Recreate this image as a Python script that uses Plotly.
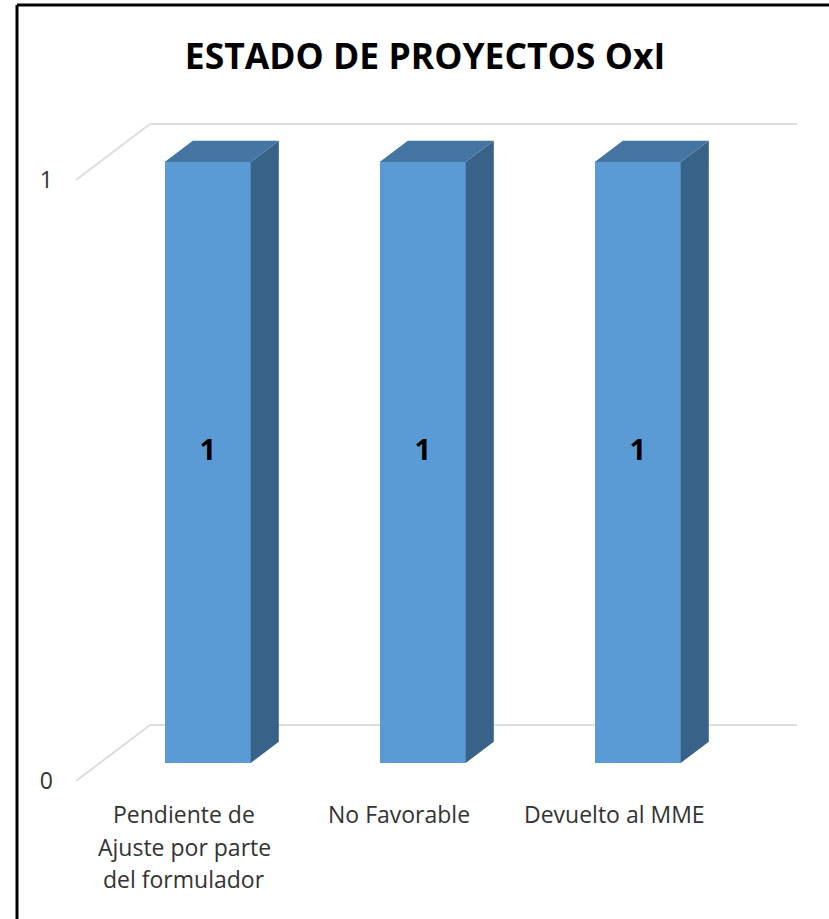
import plotly.graph_objects as go

# Data
categories = [["Pendiente de", "Ajuste por parte", "del formulador"], ["No Favorable"], ["Devuelto al MME"]]
values = [1, 1, 1]
y_ticks = [0, 1]
title = "ESTADO DE PROYECTOS OxI"

# Geometry of the pseudo-3D projection (axis units)
W, H = 829, 919
L, R, T, B = 76, 32, 100, 119
UX = 215.0   # px per category
UY = 601.0   # px per value unit
X0 = 184.0   # px of category 0 at depth 0
Y0 = 781.0   # px of value 0 at depth 0
DX = 74 / UX  # full depth shift in x
DY = 56 / UY  # full depth shift in y
D_FRONT, D_BACK = 0.32, 0.70
BAR_W = 86 / UX
FONT = "Open Sans"


def proj(cat, val, depth):
    return cat + DX * depth, val + DY * depth


def paper_x(px):
    return (px - L) / (W - L - R)


def paper_y(px):
    return ((H - B) - px) / (H - T - B)


fig = go.Figure()
xs = list(range(len(categories)))

# Front faces
fig.add_trace(go.Bar(
    x=[proj(i, 0, D_FRONT)[0] for i in xs],
    y=values,
    base=[proj(0, 0, D_FRONT)[1]] * len(xs),
    width=BAR_W,
    marker=dict(color="#5B9BD5", line=dict(width=0)),
    hoverinfo="skip",
    showlegend=False,
))

# Side and top faces
for i, v in zip(xs, values):
    l, r = i - BAR_W / 2, i + BAR_W / 2
    side = [proj(r, 0, D_FRONT), proj(r, 0, D_BACK), proj(r, v, D_BACK), proj(r, v, D_FRONT)]
    top = [proj(l, v, D_FRONT), proj(l, v, D_BACK), proj(r, v, D_BACK), proj(r, v, D_FRONT)]
    for pts, col in ((side, "#396288"), (top, "#4575A3")):
        fig.add_trace(go.Scatter(
            x=[p[0] for p in pts] + [pts[0][0]],
            y=[p[1] for p in pts] + [pts[0][1]],
            mode="lines", fill="toself", fillcolor=col,
            line=dict(width=0, color=col), hoverinfo="skip", showlegend=False,
        ))

# Data labels
fig.add_trace(go.Scatter(
    x=[proj(i, 0, D_FRONT)[0] for i in xs],
    y=[v / 2 + DY * 0.50 for v in values],
    text=[str(v) for v in values],
    mode="text", textposition="middle center",
    textfont=dict(family=FONT, size=29, color="#000000", weight="bold"),
    hoverinfo="skip", showlegend=False,
))

# Wall and floor gridlines
x_left = -(X0 - L) / UX
x_right = (W - R - X0) / UX
shapes = []
for t in y_ticks:
    back_x = proj(x_left, t, 1)
    shapes.append(dict(type="line", layer="below", xref="x", yref="y",
                       x0=x_left, y0=t, x1=back_x[0], y1=back_x[1],
                       line=dict(color="#DDDDDD", width=2)))
    shapes.append(dict(type="line", layer="below", xref="x", yref="y",
                       x0=back_x[0], y0=back_x[1], x1=x_right, y1=back_x[1],
                       line=dict(color="#DDDDDD", width=2)))

# Black frame: left and top edges only
shapes.append(dict(type="line", xref="paper", yref="paper",
                   x0=paper_x(17), x1=paper_x(17), y0=paper_y(H), y1=paper_y(5),
                   line=dict(color="#000000", width=3)))
shapes.append(dict(type="line", xref="paper", yref="paper",
                   x0=paper_x(17), x1=paper_x(W), y0=paper_y(5), y1=paper_y(5),
                   line=dict(color="#000000", width=3)))

# Category labels, one line each
annotations = []
for i, lines in zip(xs, categories):
    for j, line in enumerate(lines):
        annotations.append(dict(
            x=i, xref="x", y=0, yref="paper", yanchor="middle", xanchor="center",
            yshift=(H - B) - 814 - 32.5 * j, showarrow=False, text=line,
            font=dict(family=FONT, size=23, color="#333333"),
        ))

fig.update_layout(
    width=W, height=H, autosize=False,
    margin=dict(l=L, r=R, t=T, b=B, pad=0),
    paper_bgcolor="#FFFFFF", plot_bgcolor="rgba(0,0,0,0)",
    title=dict(text=title, x=425 / W, xanchor="center", xref="container", y=1 - 57 / H, yanchor="middle",
               yref="container", font=dict(family=FONT, size=35.5, color="#000000", weight="bold")),
    xaxis=dict(range=[x_left, x_right], showgrid=False, zeroline=False, showline=False,
               showticklabels=False, ticks=""),
    yaxis=dict(range=[(Y0 - (H - B)) / UY, (Y0 - T) / UY], showgrid=False, zeroline=False,
               showline=False, tickvals=y_ticks, ticktext=[str(t) for t in y_ticks], ticks="",
               ticklabelstandoff=22, tickfont=dict(family=FONT, size=23, color="#333333")),
    shapes=shapes, annotations=annotations, showlegend=False, bargap=0,
)

fig.write_html("out.html", config={"displayModeBar": False},
               post_script="document.body.style.margin='0';document.documentElement.style.overflow='hidden';")
